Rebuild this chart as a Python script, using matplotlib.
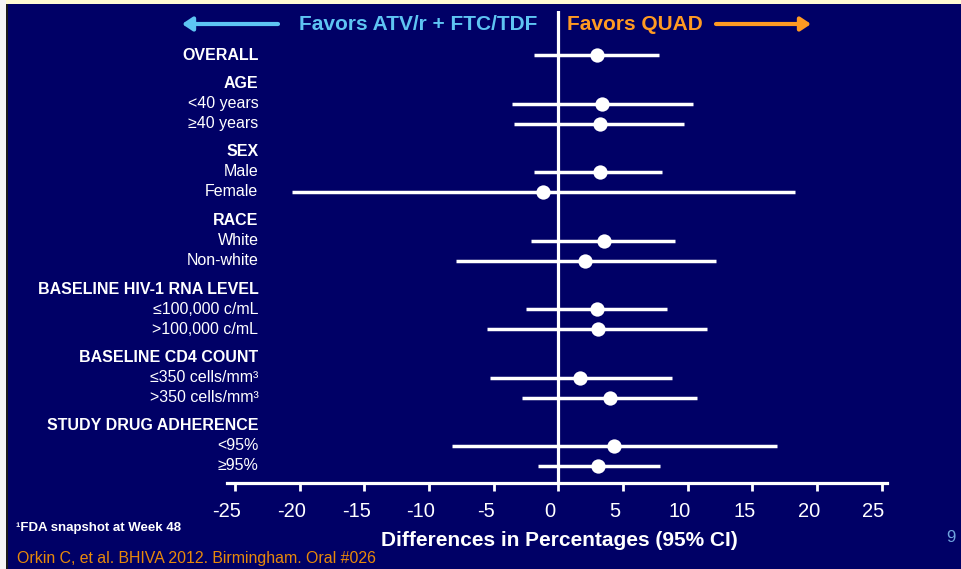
import numpy as np
import matplotlib
matplotlib.use("Agg")
import matplotlib.pyplot as plt
from matplotlib.transforms import blended_transform_factory, ScaledTranslation
from matplotlib.patches import Rectangle, FancyArrowPatch

plt.rcParams['font.family'] = ['Liberation Sans', 'DejaVu Sans']

# ---------------- data ----------------
labels = ["OVERALL", "AGE", "<40 years", "≥40 years", "SEX", "Male", "Female",
          "RACE", "White", "Non-white", "BASELINE HIV-1 RNA LEVEL",
          "≤100,000 c/mL", ">100,000 c/mL", "BASELINE CD4 COUNT",
          "≤350 cells/mm³", ">350 cells/mm³", "STUDY DRUG ADHERENCE",
          "<95%", "≥95%"]
is_header = [True, True, False, False, True, False, False, True, False, False,
             True, False, False, True, False, False, True, False, False]
group = [0, 1, 1, 1, 2, 2, 2, 3, 3, 3, 4, 4, 4, 5, 5, 5, 6, 6, 6]
nan = np.nan
estimate = [3.0, nan, 3.4, 3.2, nan, 3.2, -1.2, nan, 3.5, 2.1, nan, 3.0, 3.1,
            nan, 1.7, 4.0, nan, 4.3, 3.1]
ci_low = [-1.9, nan, -3.6, -3.4, nan, -1.9, -20.6, nan, -2.1, -7.9, nan, -2.5,
          -5.5, nan, -5.3, -2.8, nan, -8.2, -1.6]
ci_high = [7.8, nan, 10.4, 9.7, nan, 8.0, 18.3, nan, 9.0, 12.2, nan, 8.4, 11.5,
           nan, 8.8, 10.7, nan, 16.9, 7.9]
xticks = [-25, -20, -15, -10, -5, 0, 5, 10, 15, 20, 25]

# ---------------- style ----------------
NAVY = '#000066'
W, H = 961, 569
fig = plt.figure(figsize=(W / 100, H / 100), dpi=100, facecolor=NAVY)

# decorative frame bits
fig.patches.append(Rectangle((0, 1 - 4 / H), 1, 4 / H, transform=fig.transFigure,
                             facecolor='#FFFBD2', edgecolor='none'))
fig.patches.append(Rectangle((0, 0), 6 / W, 1, transform=fig.transFigure,
                             facecolor='#F4F4F4', edgecolor='none'))
fig.patches.append(Rectangle((6 / W, 0), 2 / W, 1 - 4 / H, transform=fig.transFigure,
                             facecolor='#1A1A1A', edgecolor='none'))

ax_left, ax_right = 227.3, 886.7
ax_top, ax_bot = 11, 483
ax = fig.add_axes([ax_left / W, (H - ax_bot) / H, (ax_right - ax_left) / W,
                   (ax_bot - ax_top) / H])
ax.set_facecolor('none')
ax.set_xlim(-25.6, 25.4)
ax.set_ylim(ax_bot, ax_top)

# row positions (pixel-like units from top)
rows = np.arange(len(labels))
ypos = 55 + rows * 20.0 + np.array(group) * 8.5

# zero line
ax.axvline(0, color='white', lw=2.3, zorder=1)

est = np.array(estimate)
lo = np.array(ci_low)
hi = np.array(ci_high)
mask = ~np.isnan(est)
ax.hlines(ypos[mask], lo[mask], hi[mask], color='white', lw=2.5, zorder=2)
ax.plot(est[mask], ypos[mask], 'o', color='white', ms=10.3, zorder=3,
        markeredgewidth=0)

# labels
tr = blended_transform_factory(fig.transFigure, ax.transData)
for lab, hdr, y in zip(labels, is_header, ypos):
    ax.text(258.5 / W, y, lab, transform=tr, ha='right', va='center',
            color='white', fontsize=11.5, fontweight='bold' if hdr else 'normal')

# axis styling
for s in ['top', 'right', 'left']:
    ax.spines[s].set_visible(False)
ax.spines['bottom'].set_color('white')
ax.spines['bottom'].set_linewidth(2.3)
ax.set_yticks([])
ax.set_xticks(xticks)
ax.set_xticklabels([str(t) for t in xticks])
ax.tick_params(axis='x', colors='white', direction='out', length=5.5, width=2,
               labelsize=14.5, pad=8.5)
off = ScaledTranslation(-8 / 100, 0, fig.dpi_scale_trans)
for lbl in ax.get_xticklabels():
    lbl.set_transform(lbl.get_transform() + off)

fig.text(559 / W, 1 - 541 / H, "Differences in Percentages (95% CI)",
         ha='center', va='center', color='white', fontsize=15, fontweight='bold')

# header
BLUE = '#5EC4F2'
ORANGE = '#FF9A22'
fig.text(537 / W, 1 - 24 / H, "Favors ATV/r + FTC/TDF", ha='right', va='center',
         color=BLUE, fontsize=15, fontweight='bold')
fig.text(567 / W, 1 - 24 / H, "Favors QUAD", ha='left', va='center',
         color=ORANGE, fontsize=15, fontweight='bold')
fig.add_artist(FancyArrowPatch(
    (278 / W, 1 - 24 / H), (182 / W, 1 - 24 / H), transform=fig.transFigure,
    arrowstyle='-|>,head_length=6,head_width=4', color=BLUE, lw=3,
    mutation_scale=1, shrinkA=0, shrinkB=0))
fig.add_artist(FancyArrowPatch(
    (716 / W, 1 - 24 / H), (811 / W, 1 - 24 / H), transform=fig.transFigure,
    arrowstyle='-|>,head_length=6,head_width=4', color=ORANGE, lw=3,
    mutation_scale=1, shrinkA=0, shrinkB=0))

# footnotes
fig.text(16 / W, 1 - 528 / H, "¹FDA snapshot at Week 48", ha='left', va='center',
         color='white', fontsize=9.5, fontweight='bold')
fig.text(17 / W, 1 - 558 / H, "Orkin C, et al. BHIVA 2012. Birmingham. Oral #026",
         ha='left', va='center', color='#E8890A', fontsize=11.4)
fig.text(951 / W, 1 - 538 / H, "9", ha='center', va='center', color='#6FA3DD',
         fontsize=12)

fig.savefig('out.png', dpi=100, facecolor=NAVY)
